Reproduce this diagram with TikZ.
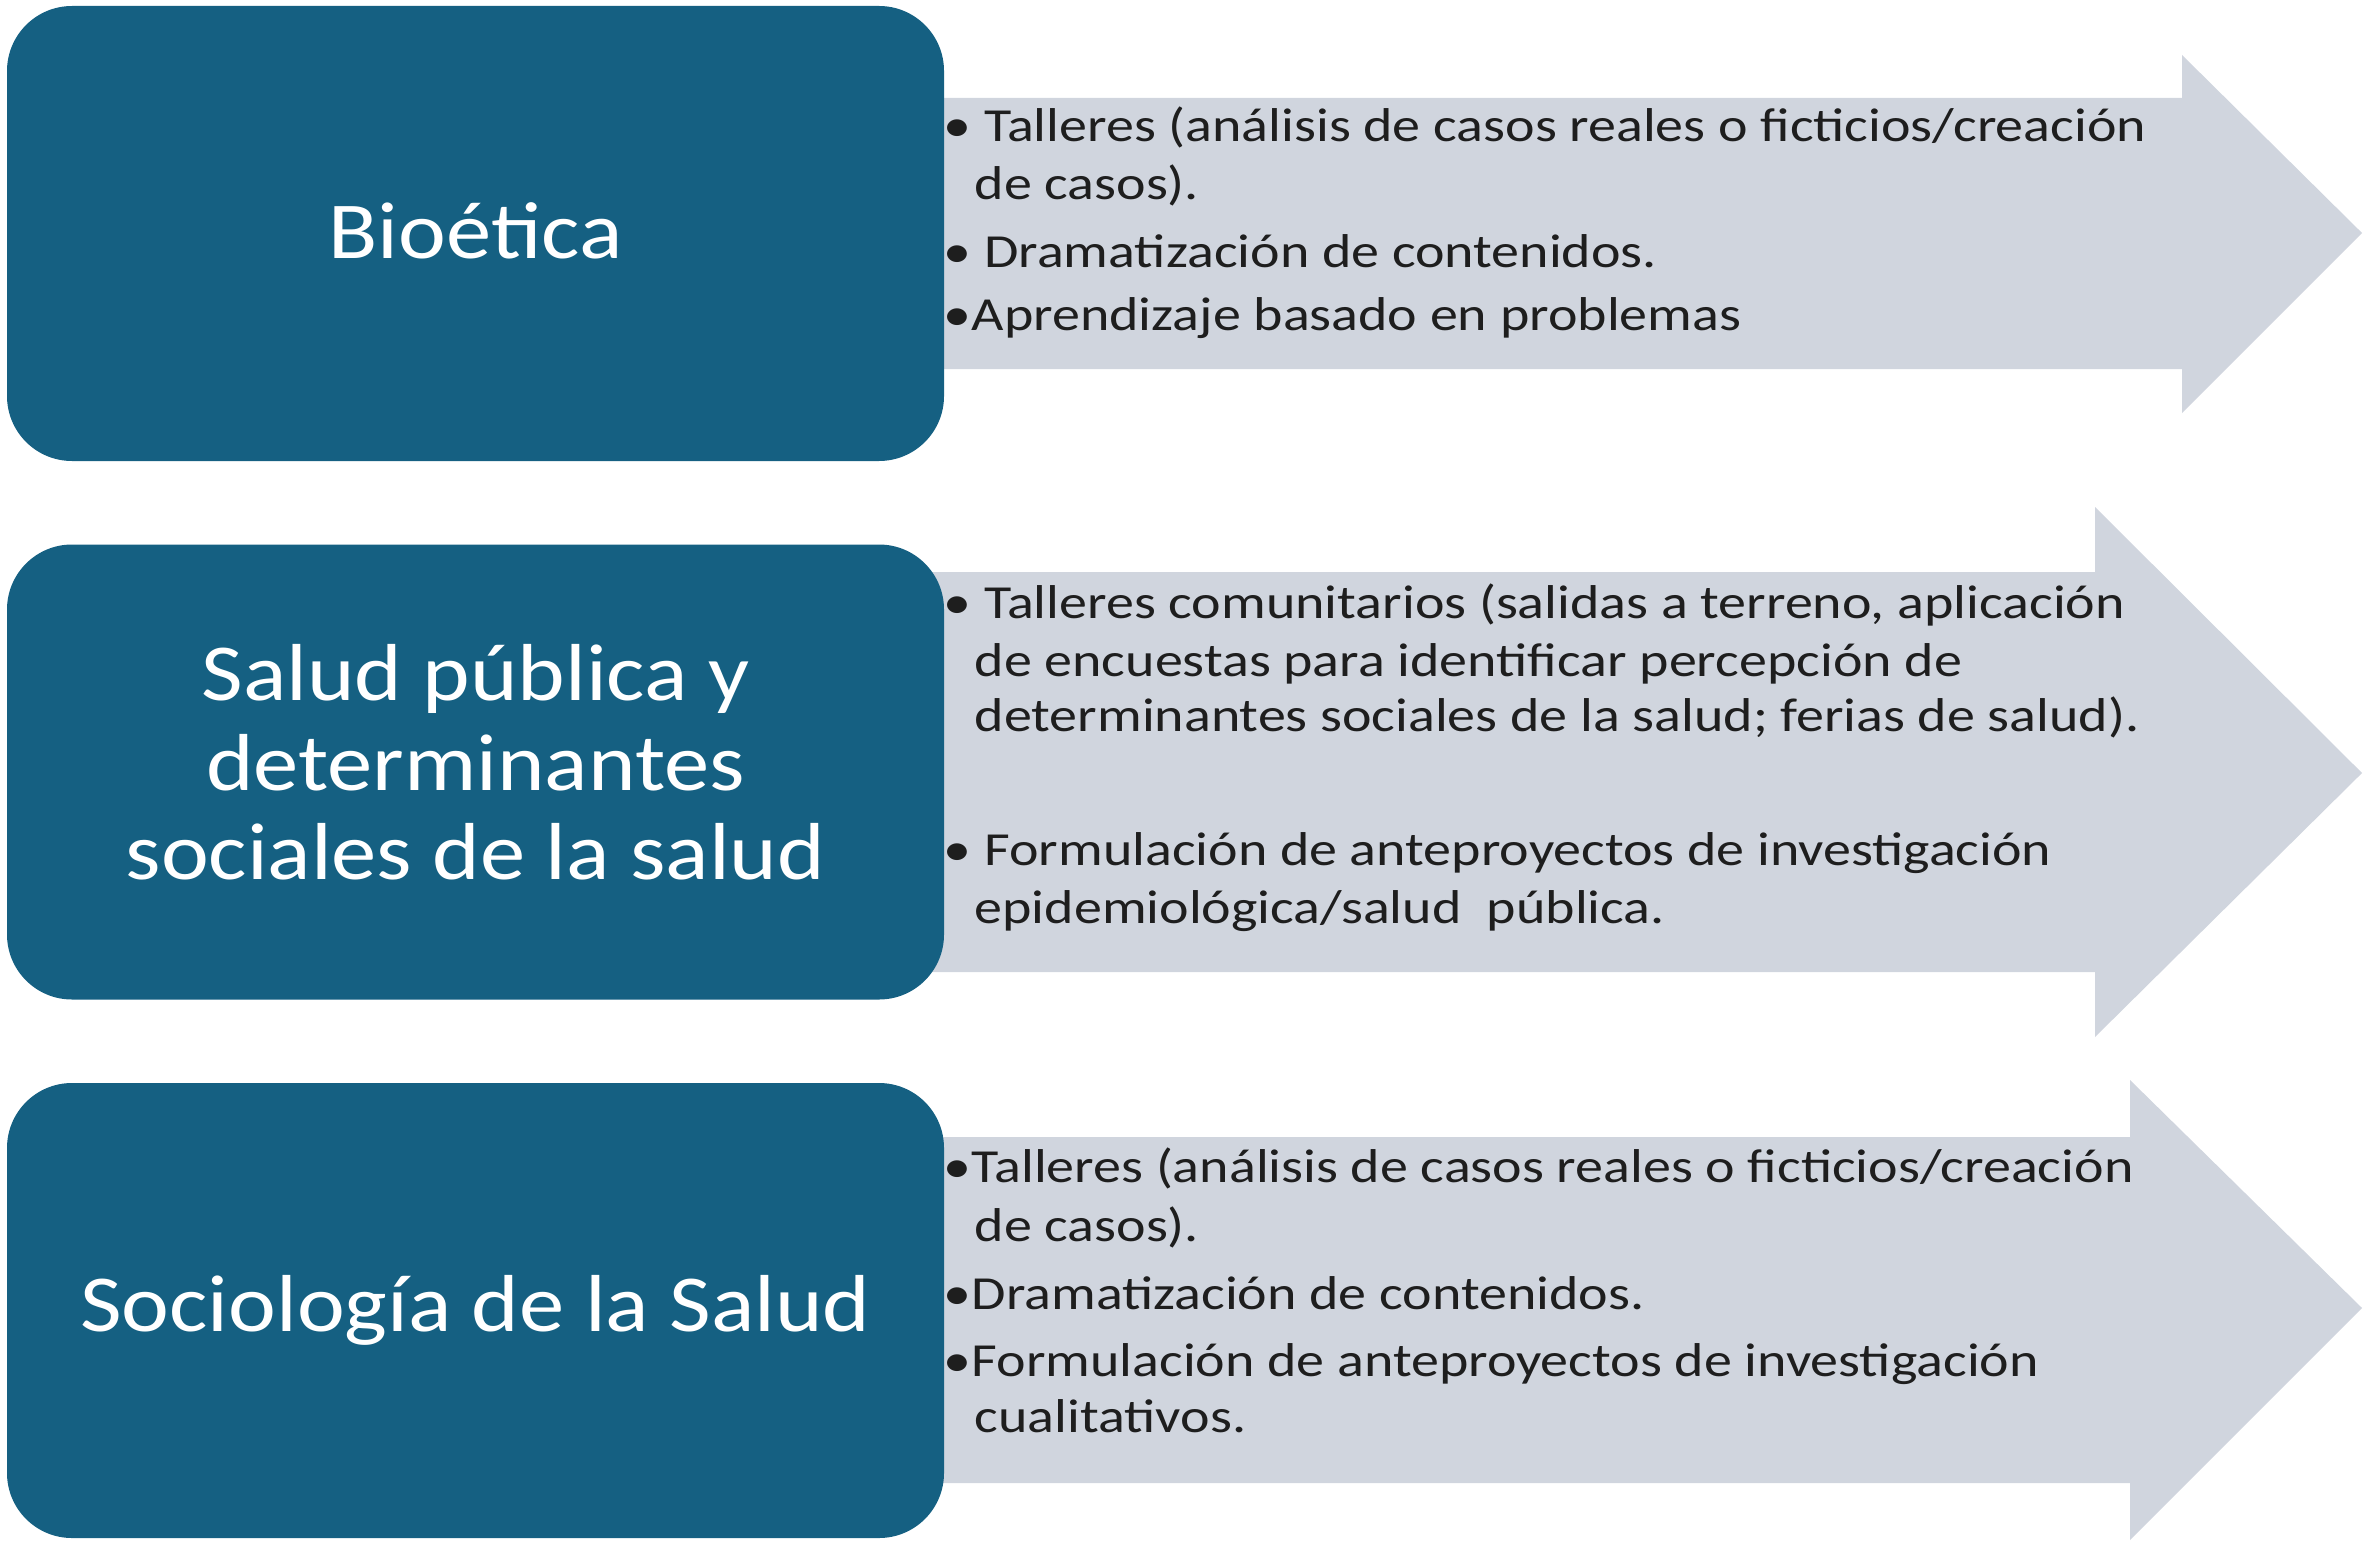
\documentclass[tikz,border=0pt]{standalone}
\usepackage{fontspec}
\setmainfont{Carlito}[FakeStretch=1.18]
\newfontfamily\titulofont{Carlito}[FakeStretch=1.12]
\usepackage{tikz}

\definecolor{azulcaja}{HTML}{156082}
\definecolor{grisflecha}{HTML}{D0D5DE}
\definecolor{textogris}{HTML}{1E1E1E}

\begin{document}
\begin{tikzpicture}[
  caja/.style={fill=azulcaja,rounded corners=0.65cm,minimum width=9.37cm,minimum height=4.55cm,
    text=white,align=center,font=\titulofont\fontsize{23}{25.6}\selectfont,inner sep=0pt},
  linea/.style={anchor=base west,inner sep=0pt,text=textogris,font=\fontsize{13.5}{16}\selectfont}
]
\useasboundingbox (0,0) rectangle (23.68,15.46);

% flechas
\fill[grisflecha] (5,14.48) -- (21.82,14.48) -- (21.82,14.91) -- (23.62,13.13) -- (21.82,11.33) -- (21.82,11.77) -- (5,11.77) -- cycle;
\fill[grisflecha] (5,9.74) -- (20.95,9.74) -- (20.95,10.39) -- (23.62,7.73) -- (20.95,5.09) -- (20.95,5.74) -- (5,5.74) -- cycle;
\fill[grisflecha] (5,4.09) -- (21.30,4.09) -- (21.30,4.66) -- (23.62,2.38) -- (21.30,0.06) -- (21.30,0.63) -- (5,0.63) -- cycle;

% cajas
\node[caja] (bioetica) at (4.755,13.125) {\raisebox{0.5mm}{Bioética}};
\node[caja] (saludpub) at (4.755,7.74) {\raisebox{0.8mm}{\begin{tabular}{@{}c@{}}Salud pública y\\determinantes\\sociales de la salud\end{tabular}}};
\node[caja] (sociologia) at (4.755,2.355) {Sociología de la Salud};

% textos
\node[linea] (b1) at (9.43,14.04) {• Talleres (análisis de casos reales o ficticios/creación};
\node[linea] (b2) at (9.74,13.46) {de casos).};
\node[linea] (b3) at (9.43,12.78) {• Dramatización de contenidos.};
\node[linea] (b4) at (9.43,12.16) {•Aprendizaje basado en problemas};

\node[linea] (s1) at (9.43,9.28) {• Talleres comunitarios (salidas a terreno, aplicación};
\node[linea] (s2) at (9.74,8.70) {de encuestas para identificar percepción de};
\node[linea] (s3) at (9.74,8.15) {determinantes sociales de la salud; ferias de salud).};
\node[linea] (s4) at (9.43,6.81) {• Formulación de anteproyectos de investigación};
\node[linea] (s5) at (9.74,6.23) {epidemiológica/salud\ \ pública.};

\node[linea] (c1) at (9.43,3.64) {•Talleres (análisis de casos reales o ficticios/creación};
\node[linea] (c2) at (9.74,3.05) {de casos).};
\node[linea] (c3) at (9.43,2.37) {•Dramatización de contenidos.};
\node[linea] (c4) at (9.43,1.70) {•Formulación de anteproyectos de investigación};
\node[linea] (c5) at (9.74,1.14) {cualitativos.};

\end{tikzpicture}
\end{document}
